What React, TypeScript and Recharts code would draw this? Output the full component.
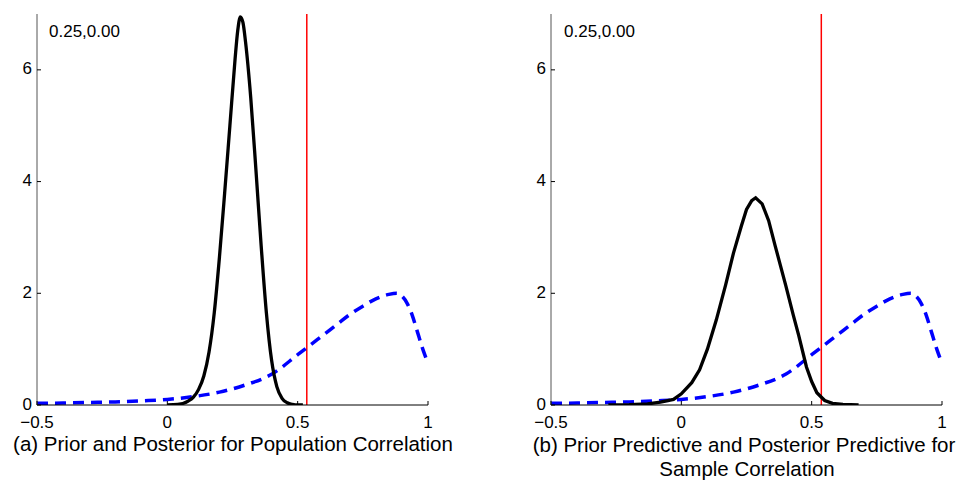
import { LineChart, Line, XAxis, YAxis, ReferenceLine } from 'recharts';

// prior density of the correlation (blue dashed), same in both panels
const priorX = [-0.5, -0.4, -0.3, -0.2, -0.1, 0.0, 0.1, 0.2, 0.3, 0.4, 0.5, 0.55, 0.6, 0.65, 0.7, 0.75, 0.8, 0.85, 0.88, 0.9, 0.92, 0.94, 0.96, 0.98, 1.0];
const priorY = [0.03, 0.035, 0.045, 0.055, 0.075, 0.1, 0.15, 0.23, 0.36, 0.55, 0.9, 1.08, 1.26, 1.44, 1.62, 1.77, 1.9, 1.98, 2.0, 1.95, 1.82, 1.6, 1.3, 1.0, 0.75];

// posterior for population correlation (panel a)
const postX = [0.0, 0.04, 0.08, 0.1, 0.12, 0.14, 0.16, 0.18, 0.2, 0.22, 0.24, 0.26, 0.27, 0.28, 0.29, 0.3, 0.32, 0.34, 0.36, 0.38, 0.4, 0.42, 0.44, 0.46, 0.48, 0.5, 0.52];
const postY = [0.0, 0.01, 0.07, 0.14, 0.28, 0.52, 0.95, 1.65, 2.65, 3.8, 5.0, 6.2, 6.7, 6.95, 6.85, 6.5, 5.5, 4.2, 2.85, 1.65, 0.8, 0.33, 0.12, 0.04, 0.01, 0.0, 0.0];

// posterior predictive for sample correlation (panel b)
const predX = [-0.28, -0.2, -0.13, -0.08, -0.03, 0.0, 0.04, 0.07, 0.1, 0.134, 0.17, 0.2, 0.23, 0.25, 0.27, 0.285, 0.31, 0.335, 0.36, 0.38, 0.4, 0.43, 0.45, 0.48, 0.5, 0.52, 0.55, 0.58, 0.62, 0.68];
const predY = [0.0, 0.005, 0.02, 0.05, 0.1, 0.2, 0.4, 0.63, 1.0, 1.52, 2.15, 2.72, 3.2, 3.5, 3.66, 3.71, 3.6, 3.3, 2.85, 2.5, 2.15, 1.6, 1.25, 0.68, 0.42, 0.22, 0.08, 0.03, 0.01, 0.0];

const observedA = 0.535;
const observedB = 0.537;

const xTicks = [-0.5, 0, 0.5, 1];
const yTicks = [0, 2, 4, 6];
const annotation = '0.25,0.00';
const captionA = '(a) Prior and Posterior for Population Correlation';
const captionB1 = '(b) Prior Predictive and Posterior Predictive for';
const captionB2 = 'Sample Correlation';

const FONT = '"Liberation Sans", Arial, Helvetica, sans-serif';

const zip = (xs: number[], ys: number[]) => xs.map((x, i) => ({ x, y: ys[i] }));
const prior = zip(priorX, priorY);
const post = zip(postX, postY);
const pred = zip(predX, predY);

const fmtX = (v: number) => (v < 0 ? '\u2212' + Math.abs(v) : String(v));

// matlab-style ticks: short marks pointing into the plot
const XTick = (props: any) => {
  const { x, y, payload } = props;
  return (
    <g>
      <line x1={x} y1={y} x2={x} y2={y - 4} stroke="#000" />
      <text x={x} y={y + 23} textAnchor="middle" fontSize={17} fontFamily={FONT} fill="#000">
        {fmtX(payload.value)}
      </text>
    </g>
  );
};

const YTick = (props: any) => {
  const { x, y, payload } = props;
  return (
    <g>
      <line x1={x} y1={y} x2={x + 4} y2={y} stroke="#000" />
      <text x={x - 5} y={y + 4.5} textAnchor="end" fontSize={17} fontFamily={FONT} fill="#000">
        {payload.value}
      </text>
    </g>
  );
};

function Panel({ curve, observed, curveType }: { curve: { x: number; y: number }[]; observed: number; curveType: 'monotone' | 'linear' }) {
  return (
    <LineChart width={480} height={440} margin={{ top: 14, right: 52, left: 0, bottom: 0 }}>
      <XAxis
        type="number"
        dataKey="x"
        domain={[-0.5, 1]}
        ticks={xTicks}
        allowDataOverflow
        height={35}
        tickSize={0}
        tickMargin={0}
        tickLine={false}
        tick={XTick}
        axisLine={{ stroke: '#000' }}
      />
      <YAxis
        type="number"
        domain={[0, 7]}
        ticks={yTicks}
        allowDataOverflow
        width={37}
        tickSize={0}
        tickMargin={0}
        tickLine={false}
        tick={YTick}
        axisLine={{ stroke: '#555' }}
      />
      <ReferenceLine x={observed} stroke="#ff0000" strokeWidth={1.5} />
      <Line
        data={prior}
        dataKey="y"
        type="monotone"
        stroke="#0000ff"
        strokeWidth={3.5}
        strokeDasharray="11 7"
        dot={false}
        isAnimationActive={false}
      />
      <Line
        data={curve}
        dataKey="y"
        type={curveType}
        stroke="#000"
        strokeWidth={3.3}
        dot={false}
        isAnimationActive={false}
      />
    </LineChart>
  );
}

export default function App() {
  return (
    <div style={{ position: 'absolute', left: 0, top: 0, width: 964, height: 480, background: '#fff' }}>
      <div style={{ position: 'absolute', left: 0, top: 0 }}>
        <Panel curve={post} observed={observedA} curveType="monotone" />
      </div>
      <div style={{ position: 'absolute', left: 514, top: 0 }}>
        <Panel curve={pred} observed={observedB} curveType="linear" />
      </div>
      <svg width={964} height={480} style={{ position: 'absolute', left: 0, top: 0, pointerEvents: 'none' }}>
        <text x={49} y={37} fontSize={17} fontFamily={FONT} fill="#000">{annotation}</text>
        <text x={564} y={37} fontSize={17} fontFamily={FONT} fill="#000">{annotation}</text>
        <text x={233} y={451} textAnchor="middle" fontSize={20.5} fontFamily={FONT} fill="#000">{captionA}</text>
        <text x={744} y={452} textAnchor="middle" fontSize={20.5} fontFamily={FONT} fill="#000">{captionB1}</text>
        <text x={747} y={476} textAnchor="middle" fontSize={20.5} fontFamily={FONT} fill="#000">{captionB2}</text>
      </svg>
    </div>
  );
}
